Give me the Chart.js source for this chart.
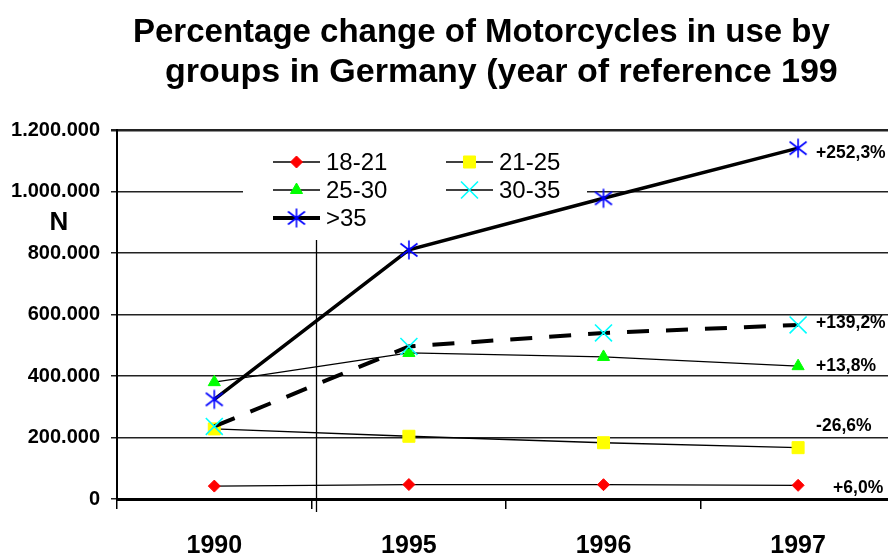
<!DOCTYPE html>
<html>
<head>
<meta charset="utf-8">
<script src="https://cdn.jsdelivr.net/npm/chart.js@4.4.0/dist/chart.umd.min.js"></script>
<style>
html, body { margin: 0; padding: 0; background: #fff; overflow: hidden; }
#wrap { width: 909px; height: 554px; }
</style>
</head>
<body>
<div id="wrap"><canvas id="myChart" width="909" height="554"></canvas></div>
<script>
// values
const years = ['1990', '1995', '1996', '1997'];
const groups = ['18-21', '21-25', '25-30', '30-35', '>35'];
const age18to21 = [42000, 47000, 46500, 44500];
const age21to25 = [228000, 204000, 183000, 167000];
const age25to30 = [380000, 475000, 462000, 432000];
const age30to35 = [236000, 496000, 540000, 566000];
const age35plus = [324000, 810000, 978000, 1141000];
const changeLabels = ['+6,0%', '-26,6%', '+13,8%', '+139,2%', '+252,3%'];
const yTicks = [0, 200000, 400000, 600000, 800000, 1000000, 1200000];
const titleLines = ['Percentage change of Motorcycles in use by', 'groups in Germany (year of reference 199'];

const FONT = '"Liberation Sans", Arial, sans-serif';
Chart.defaults.font.family = FONT;
Chart.defaults.color = '#000';

// six armed asterisk for the >35 series
const asterisk = document.createElement('canvas');
asterisk.width = 20;
asterisk.height = 22;
let a = asterisk.getContext('2d');
a.strokeStyle = '#0000ff';
a.lineWidth = 1.6;
a.beginPath();
a.moveTo(10, 1.5); a.lineTo(10, 20.5);
a.moveTo(1.5, 4.5); a.lineTo(18.5, 17.5);
a.moveTo(18.5, 4.5); a.lineTo(1.5, 17.5);
a.stroke();

function dots(v) {
    return String(v).replace(/\B(?=(\d{3})+(?!\d))/g, '.');
}

let seriesData = [age18to21, age21to25, age25to30, age30to35, age35plus];
let markerColors = ['#ff0000', '#ffff00', '#00ff00', '#00ffff', '#0000ff'];
let markerStyles = ['rectRot', 'rect', 'triangle', 'crossRot', asterisk];
let markerSizes = [6, 8.5, 7, 12, 10];
let lineWidths = [1.3, 1.3, 1.3, 4, 3.5];
let legendLineWidths = [1.3, 1.3, 1.3, 1.3, 4];
let labelOffsets = [[35, 3], [18, -21], [18, 0], [18, -2], [18, 5]];

let speedData = {
    labels: years,
    datasets: groups.map((g, i) => ({
        label: g,
        data: seriesData[i],
        order: 5 - i,
        tension: 0,
        fill: false,
        borderColor: '#000',
        borderWidth: lineWidths[i],
        borderDash: i === 3 ? [22, 17] : [],
        pointStyle: markerStyles[i],
        pointRadius: markerSizes[i],
        pointHoverRadius: markerSizes[i],
        pointBackgroundColor: markerColors[i],
        pointBorderColor: markerColors[i],
        pointBorderWidth: i === 3 ? 1.6 : 1
    }))
};

let decorPlugin = {
    id: 'decor',
    beforeDatasetsDraw(chart) {
        let ctx = chart.ctx;
        ctx.save();
        // legend box inside the plot
        ctx.fillStyle = '#fff';
        ctx.fillRect(243, 138, 344, 102);
        // stray vertical line of the original
        ctx.strokeStyle = '#000';
        ctx.lineWidth = 1.3;
        ctx.beginPath();
        ctx.moveTo(316.5, 240);
        ctx.lineTo(316.5, 512);
        ctx.stroke();

        let cols = [273, 446];
        let rows = [162, 190, 218];
        ctx.font = '24px ' + FONT;
        ctx.textBaseline = 'middle';
        ctx.textAlign = 'left';
        chart.data.datasets.forEach((ds, i) => {
            let x = cols[i % 2];
            let y = rows[Math.floor(i / 2)];
            ctx.strokeStyle = '#000';
            ctx.lineWidth = legendLineWidths[i];
            ctx.setLineDash([]);
            ctx.beginPath();
            ctx.moveTo(x, y);
            ctx.lineTo(x + 47, y);
            ctx.stroke();
            ctx.fillStyle = markerColors[i];
            ctx.strokeStyle = markerColors[i];
            ctx.lineWidth = ds.pointBorderWidth;
            Chart.helpers.drawPoint(ctx, {
                pointStyle: ds.pointStyle,
                radius: ds.pointRadius,
                rotation: 0,
                borderWidth: ds.pointBorderWidth
            }, x + 23.5, y);
            ctx.fillStyle = '#000';
            ctx.fillText(ds.label, x + 53, y + 1);
        });
        ctx.restore();
    },
    afterDatasetsDraw(chart) {
        let ctx = chart.ctx;
        ctx.save();
        ctx.fillStyle = '#000';
        ctx.font = 'bold 17.5px ' + FONT;
        ctx.textBaseline = 'middle';
        ctx.textAlign = 'left';
        chart.data.datasets.forEach((ds, i) => {
            let pts = chart.getDatasetMeta(i).data;
            let last = pts[pts.length - 1];
            ctx.fillText(changeLabels[i], last.x + labelOffsets[i][0], last.y + labelOffsets[i][1]);
        });
        ctx.restore();
    },
    afterDraw(chart) {
        let ctx = chart.ctx;
        ctx.save();
        ctx.fillStyle = '#000';
        ctx.textAlign = 'left';
        ctx.textBaseline = 'alphabetic';
        ctx.font = 'bold 33px ' + FONT;
        ctx.fillText(titleLines[0], 133, 42);
        ctx.font = 'bold 34px ' + FONT;
        ctx.fillText(titleLines[1], 165, 82);
        ctx.font = 'bold 26px ' + FONT;
        ctx.textAlign = 'center';
        ctx.fillText('N', 59, 230);
        ctx.restore();
    }
};

let chartOptions = {
    responsive: false,
    animation: false,
    devicePixelRatio: 1,
    layout: { padding: { top: 130, right: 0, bottom: 0, left: 0 } },
    plugins: {
        legend: { display: false },
        tooltip: { enabled: false },
        title: { display: false }
    },
    scales: {
        x: {
            offset: true,
            afterFit: s => { s.height = 55; },
            grid: {
                offset: true,
                drawOnChartArea: false,
                drawTicks: true,
                tickLength: 10,
                color: '#000',
                lineWidth: 1.5
            },
            border: { color: '#000', width: 3 },
            ticks: { font: { size: 25, weight: 'bold' }, padding: 22, color: '#000' }
        },
        y: {
            min: 0,
            max: 1200000,
            afterFit: s => { s.width = 117; },
            afterBuildTicks: s => { s.ticks = yTicks.map(v => ({ value: v })); },
            grid: {
                color: '#222',
                lineWidth: c => (c.tick && c.tick.value === 1200000 ? 2.5 : 1.5),
                tickLength: 6
            },
            border: { color: '#000', width: 2 },
            ticks: {
                font: { size: 20, weight: 'bold' },
                padding: 11,
                color: '#000',
                callback: v => dots(v)
            }
        }
    }
};

let ctx = document.getElementById('myChart').getContext('2d');
let myChart = new Chart(ctx, {
    type: 'line',
    data: speedData,
    options: chartOptions,
    plugins: [decorPlugin]
});
</script>
</body>
</html>
